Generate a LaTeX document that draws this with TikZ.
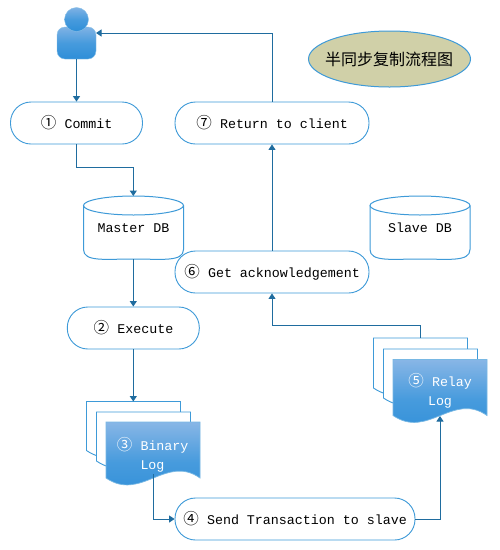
\documentclass[tikz,border=0pt]{standalone}
\usepackage{fontspec}
\setmonofont{Liberation Mono}
\newfontfamily\cjkfont{Noto Sans CJK SC}
\usetikzlibrary{arrows.meta,shapes.geometric}
\definecolor{edgeblue}{HTML}{1F6C9F}
\definecolor{boxblue}{HTML}{3E9AD8}
\definecolor{gradtop}{HTML}{88B6E6}
\definecolor{gradmid}{HTML}{479BDD}
\definecolor{gradbot}{HTML}{2E8ED8}
\definecolor{khaki}{HTML}{D0D0A8}
\newcommand{\circnum}[1]{\makebox[16pt]{\cjkfont\fontsize{15.5}{15}\selectfont #1}}
\newcommand{\docstack}[3]{%
  \path[docline] (#1,#2) -- ++(94,0) -- ++(0,#3) .. controls +(-34,-24) and +(35,24) .. ++(-94,0) -- cycle;}
\newcommand{\docfront}[3]{%
  \path[docfill] (#1,#2) -- ++(94,0) -- ++(0,#3) .. controls +(-34,-24) and +(35,24) .. ++(-94,0) -- cycle;}
\newcommand{\dbshape}[1]{%
  \path[dbline] (#1,205.5) -- ++(0,44) .. controls +(0,12.7) and +(-27.6,0) .. ++(50,9.5) .. controls +(27.6,0) and +(0,12.7) .. ++(50,-9.5) -- ++(0,-44);
  \path[dbline] (#1+50,205.5) ellipse[x radius=50,y radius=9.5];}
\tikzset{
  pill/.style={draw=boxblue,line width=0.9pt,rounded corners=20.5pt,minimum height=42pt,inner sep=0pt,font=\ttfamily\fontsize{13.33}{15}\selectfont,fill=white},
  conn/.style={draw=edgeblue,line width=1pt,-{Triangle[length=5.5pt,width=7pt]}},
  docline/.style={draw=boxblue,line width=0.9pt,fill=white},
  docfill/.style={draw=boxblue!70,line width=0.7pt,top color=gradtop,bottom color=gradbot,middle color=gradmid},
  dbline/.style={draw=boxblue,line width=1pt},
  plaintext/.style={inner sep=0pt,font=\ttfamily\fontsize{13.33}{19}\selectfont},
  doctext/.style={plaintext,text=white},
  personfill/.style={top color=gradtop!90!gradbot,bottom color=gradbot,middle color=gradmid,draw=boxblue!60,line width=0.4pt}
}
\begin{document}
\begin{tikzpicture}[x=1pt,y=-1pt]
\useasboundingbox[fill=white] (0,0) rectangle (500,550);
% title
\path[draw=boxblue,line width=1pt,fill=khaki] (389.5,59) ellipse[x radius=81,y radius=28];
\node[inner sep=0pt,font=\cjkfont\fontsize{16}{16}\selectfont] (title) at (389,59.5) {半同步复制流程图};
% person
\node[personfill,rounded corners=8pt,minimum width=39pt,minimum height=32pt,inner sep=0pt] (body) at (76.5,43) {};
\node[personfill,circle,minimum size=24pt,inner sep=0pt] (head) at (76.5,19.5) {};
\coordinate (bodyin) at (96,33);
% pills
\node[pill,minimum width=132pt] (commit) at (76.5,123) {\circnum{①} Commit};
\node[pill,minimum width=194pt] (ret) at (272,123) {\circnum{⑦} Return to client};
\node[pill,minimum width=132pt] (exec) at (133.3,328) {\circnum{②} Execute};
\node[pill,minimum width=194pt] (ack) at (272,272) {\circnum{⑥} Get acknowledgement};
\node[pill,minimum width=240pt] (send) at (295,519) {\circnum{④} Send Transaction to slave};
% databases
\dbshape{83.5}
\dbshape{370}
\node[plaintext] (master) at (133.5,228) {Master DB};
\node[plaintext] (slave) at (420,228) {Slave DB};
\coordinate (mastertop) at (133.3,196);
\coordinate (masterbot) at (133.3,259);
% binary log stack
\docstack{86.5}{401.5}{49}
\docstack{96.5}{412}{49}
\docfront{106}{422}{56}
\node[doctext,align=center] (binary) at (152.5,454.5) {\circnum{③} Binary\\Log};
\coordinate (bintop) at (133.3,401.5);
\coordinate (binbot) at (153.5,474);
% relay log stack
\docstack{373.5}{338}{50}
\docstack{383.5}{349}{49}
\docfront{393}{359.5}{56}
\node[doctext,align=center] (relay) at (440,390.5) {\circnum{⑤} Relay\\Log};
\coordinate (relbot) at (440,416);
\coordinate (reltop) at (420.5,338);
% connectors
\draw[conn] (body.south) -- (commit.north);
\draw[conn] (commit.south) -- ++(0,23) -| (mastertop);
\draw[conn] (masterbot) -- (exec.north);
\draw[conn] (exec.south) -- (bintop);
\draw[conn] (binbot) |- (send.west);
\draw[conn] (send.east) -| (relbot);
\draw[conn] (reltop) -- ++(0,-13) -| (ack.south);
\draw[conn] (ack.north) -- (ret.south);
\draw[conn] (ret.north) |- (bodyin);
\end{tikzpicture}
\end{document}
